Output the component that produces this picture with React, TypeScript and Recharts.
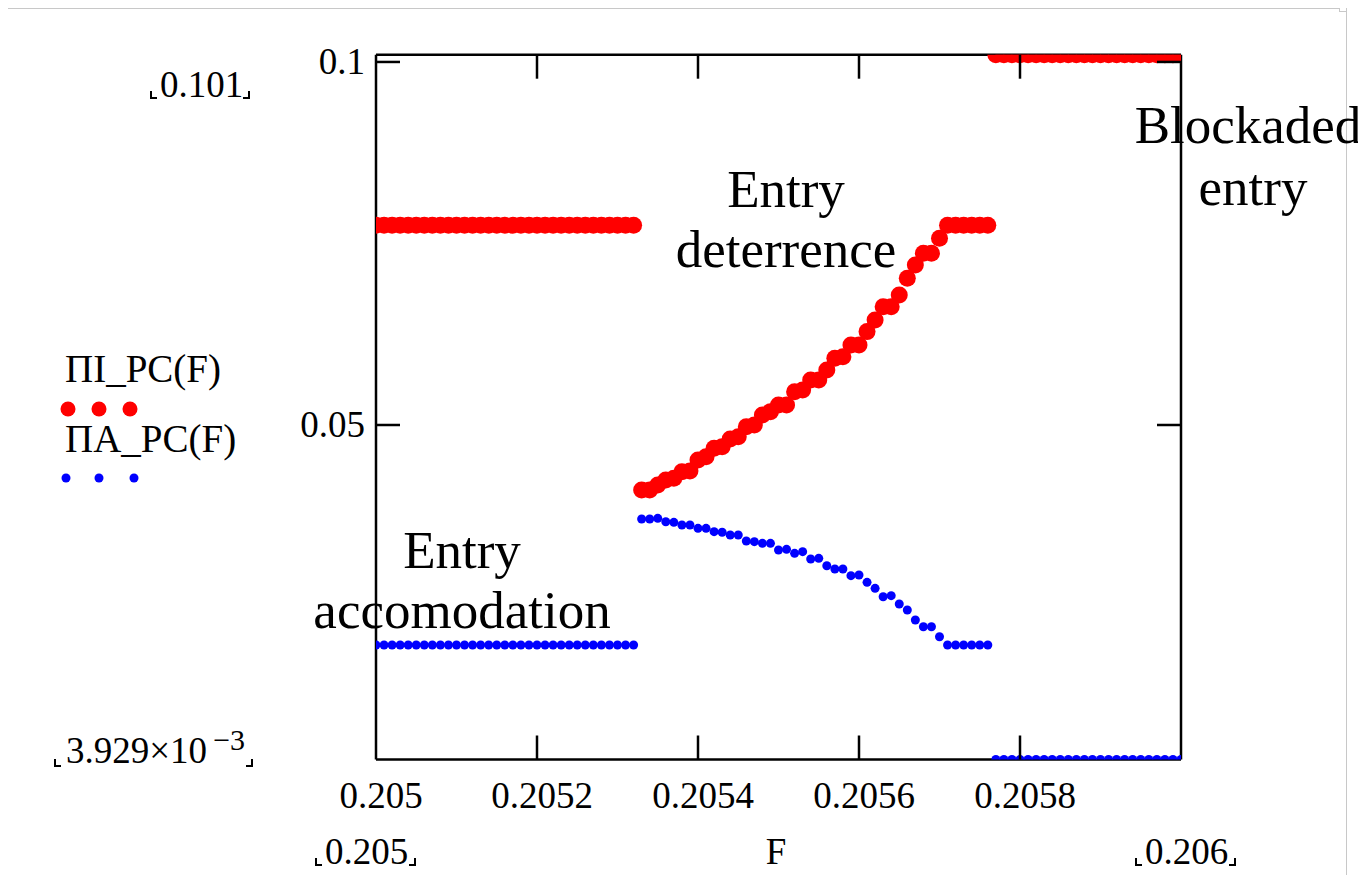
import React from 'react';
import { ScatterChart, Scatter, XAxis, YAxis } from 'recharts';

// ---------- data ----------
const F = [
  0.205, 0.20501, 0.20502, 0.20503, 0.20504, 0.20505, 0.20506, 0.20507, 0.20508, 0.20509,
  0.2051, 0.20511, 0.20512, 0.20513, 0.20514, 0.20515, 0.20516, 0.20517, 0.20518, 0.20519,
  0.2052, 0.20521, 0.20522, 0.20523, 0.20524, 0.20525, 0.20526, 0.20527, 0.20528, 0.20529,
  0.2053, 0.20531, 0.20532, 0.20533, 0.20534, 0.20535, 0.20536, 0.20537, 0.20538, 0.20539,
  0.2054, 0.20541, 0.20542, 0.20543, 0.20544, 0.20545, 0.20546, 0.20547, 0.20548, 0.20549,
  0.2055, 0.20551, 0.20552, 0.20553, 0.20554, 0.20555, 0.20556, 0.20557, 0.20558, 0.20559,
  0.2056, 0.20561, 0.20562, 0.20563, 0.20564, 0.20565, 0.20566, 0.20567, 0.20568, 0.20569,
  0.2057, 0.20571, 0.20572, 0.20573, 0.20574, 0.20575, 0.20576, 0.20577, 0.20578, 0.20579,
  0.2058, 0.20581, 0.20582, 0.20583, 0.20584, 0.20585, 0.20586, 0.20587, 0.20588, 0.20589,
  0.2059, 0.20591, 0.20592, 0.20593, 0.20594, 0.20595, 0.20596, 0.20597, 0.20598, 0.20599,
  0.206,
];

// ΠI_PC(F)
const PI_I = [
  0.0775, 0.0775, 0.0775, 0.0775, 0.0775, 0.0775, 0.0775, 0.0775, 0.0775, 0.0775,
  0.0775, 0.0775, 0.0775, 0.0775, 0.0775, 0.0775, 0.0775, 0.0775, 0.0775, 0.0775,
  0.0775, 0.0775, 0.0775, 0.0775, 0.0775, 0.0775, 0.0775, 0.0775, 0.0775, 0.0775,
  0.0775, 0.0775, 0.0775,
  0.04105, 0.04105, 0.04174, 0.04242, 0.04265, 0.04357, 0.04366, 0.04518, 0.04564, 0.04679,
  0.04702, 0.04807, 0.04839, 0.04977, 0.05, 0.05138, 0.05184, 0.05275, 0.05275, 0.05459,
  0.05482, 0.0562, 0.0562, 0.05758, 0.05918, 0.05941, 0.06102, 0.06102, 0.06286, 0.06446,
  0.0663, 0.0663, 0.06791, 0.0702, 0.07204, 0.07365, 0.07365, 0.07571, 0.0775, 0.0775,
  0.0775, 0.0775, 0.0775, 0.0775,
  0.101, 0.101, 0.101, 0.101, 0.101, 0.101, 0.101, 0.101, 0.101, 0.101,
  0.101, 0.101, 0.101, 0.101, 0.101, 0.101, 0.101, 0.101, 0.101, 0.101,
  0.101, 0.101, 0.101, 0.101,
];

// ΠA_PC(F)
const PI_A = [
  0.0197, 0.0197, 0.0197, 0.0197, 0.0197, 0.0197, 0.0197, 0.0197, 0.0197, 0.0197,
  0.0197, 0.0197, 0.0197, 0.0197, 0.0197, 0.0197, 0.0197, 0.0197, 0.0197, 0.0197,
  0.0197, 0.0197, 0.0197, 0.0197, 0.0197, 0.0197, 0.0197, 0.0197, 0.0197, 0.0197,
  0.0197, 0.0197, 0.0197,
  0.03705, 0.03705, 0.03714, 0.03668, 0.03659, 0.03623, 0.03623, 0.03577, 0.03577, 0.03531,
  0.03522, 0.03485, 0.03485, 0.03402, 0.03393, 0.0337, 0.0337, 0.03278, 0.03287, 0.03232,
  0.03255, 0.03154, 0.03163, 0.03062, 0.03017, 0.03017, 0.02925, 0.02934, 0.02833, 0.0275,
  0.02635, 0.02649, 0.02534, 0.02452, 0.02314, 0.02222, 0.02222, 0.02084, 0.0197, 0.0197,
  0.0197, 0.0197, 0.0197, 0.0197,
  0.003929, 0.003929, 0.003929, 0.003929, 0.003929, 0.003929, 0.003929, 0.003929, 0.003929, 0.003929,
  0.003929, 0.003929, 0.003929, 0.003929, 0.003929, 0.003929, 0.003929, 0.003929, 0.003929, 0.003929,
  0.003929, 0.003929, 0.003929, 0.003929,
];

const xTicks = [0.205, 0.2052, 0.2054, 0.2056, 0.2058];
const xTickLabels = ['0.205', '0.2052', '0.2054', '0.2056', '0.2058'];
const yTicks = [0.05, 0.1];
const yTickLabels = ['0.05', '0.1'];
const xLimits = [0.205, 0.206];
const xLimitLabels = ['0.205', '0.206'];
const yLimits = [0.003929, 0.101];
const seriesNames = ['ΠI_PC(F)', 'ΠA_PC(F)'];
const axisTitle = 'F';
const regionLabels = [
  ['Entry', 'deterrence'],
  ['Blockaded', 'entry'],
  ['Entry', 'accomodation'],
];

const incumbentData = F.map((f, i) => ({ F: f, v: PI_I[i] }));
const entrantData = F.map((f, i) => ({ F: f, v: PI_A[i] }));

// ---------- styling ----------
const FONT = '"Liberation Serif", "Times New Roman", serif';
const TICK_LEN = 24;
const AXIS_W = 2.5;
const RED = '#ff0000';
const BLUE = '#0000ff';

const BottomTick = (p: any) => {
  const { x, y, index } = p;
  return (
    <g>
      {index > 0 && <line x1={x} x2={x} y1={y} y2={y - TICK_LEN} stroke="#000" strokeWidth={AXIS_W} />}
      <text x={x + 5} y={y + 48} textAnchor="middle" fontFamily={FONT} fontSize={37} fill="#000">
        {xTickLabels[index]}
      </text>
    </g>
  );
};
const TopTick = (p: any) => {
  const { x, y, index } = p;
  if (index === 0) return <g />;
  return <line x1={x} x2={x} y1={y} y2={y + TICK_LEN} stroke="#000" strokeWidth={AXIS_W} />;
};
const LeftTick = (p: any) => {
  const { x, y, index } = p;
  return (
    <g>
      <line x1={x} x2={x + TICK_LEN} y1={y} y2={y} stroke="#000" strokeWidth={AXIS_W} />
      <text x={x - 11} y={y + 12} textAnchor="end" fontFamily={FONT} fontSize={37} fill="#000">
        {yTickLabels[index]}
      </text>
    </g>
  );
};
const RightTick = (p: any) => {
  const { x, y } = p;
  return <line x1={x} x2={x - TICK_LEN} y1={y} y2={y} stroke="#000" strokeWidth={AXIS_W} />;
};

const RedDot = (p: any) => <circle cx={p.cx} cy={p.cy} r={8.5} fill={RED} />;
const BlueDot = (p: any) => <circle cx={p.cx} cy={p.cy} r={4.5} fill={BLUE} />;

const Bracketed = ({ x, y, text, w }: { x: number; y: number; text: string; w: number }) => (
  <g>
    <polyline points={`${x - 9},${y - 6} ${x - 9},${y + 1} ${x - 3},${y + 1}`} fill="none" stroke="#000" strokeWidth={2} />
    <text x={x} y={y} fontFamily={FONT} fontSize={37} fill="#000">{text}</text>
    <polyline points={`${x + w + 1},${y + 1} ${x + w + 7},${y + 1} ${x + w + 7},${y - 6}`} fill="none" stroke="#000" strokeWidth={2} />
  </g>
);

export default function App() {
  const W = 1358;
  const H = 867;
  return (
    <div style={{ position: 'relative', width: W, height: H }}>
      <ScatterChart
        width={W}
        height={H}
        margin={{ top: 45.7, right: 184, left: 367, bottom: 114.5 }}
      >
        <XAxis
          type="number"
          dataKey="F"
          domain={xLimits}
          ticks={xTicks}
          allowDataOverflow
          interval={0}
          height={1}
          tickSize={0}
          tickMargin={0}
          tick={BottomTick}
          axisLine={{ stroke: '#000', strokeWidth: AXIS_W }}
          tickLine={false}
        />
        <XAxis
          xAxisId="top"
          orientation="top"
          type="number"
          dataKey="F"
          domain={xLimits}
          ticks={xTicks}
          allowDataOverflow
          interval={0}
          height={1}
          tickSize={0}
          tickMargin={0}
          tick={TopTick}
          axisLine={{ stroke: '#000', strokeWidth: AXIS_W }}
          tickLine={false}
        />
        <YAxis
          type="number"
          dataKey="v"
          domain={yLimits}
          ticks={yTicks}
          allowDataOverflow
          interval={0}
          width={1}
          tickSize={0}
          tickMargin={0}
          tick={LeftTick}
          axisLine={{ stroke: '#000', strokeWidth: AXIS_W }}
          tickLine={false}
        />
        <YAxis
          yAxisId="right"
          orientation="right"
          type="number"
          dataKey="v"
          domain={yLimits}
          ticks={yTicks}
          allowDataOverflow
          interval={0}
          width={1}
          tickSize={0}
          tickMargin={0}
          tick={RightTick}
          axisLine={{ stroke: '#000', strokeWidth: AXIS_W }}
          tickLine={false}
        />
        <Scatter name={seriesNames[0]} data={incumbentData} dataKey="v" shape={RedDot} isAnimationActive={false} />
        <Scatter name={seriesNames[1]} data={entrantData} dataKey="v" shape={BlueDot} isAnimationActive={false} />
      </ScatterChart>

      <svg
        width={1366}
        height={875}
        viewBox="0 0 1366 875"
        style={{ position: 'absolute', left: -8, top: -8, pointerEvents: 'none' }}
      >
        {/* Mathcad region frame */}
        <line x1={0} x2={1346} y1={8.5} y2={8.5} stroke="#c8c8c8" strokeWidth={1} />
        <line x1={1346.5} x2={1346.5} y1={0} y2={875} stroke="#c8c8c8" strokeWidth={1} />
        <rect x={1339.5} y={4.5} width={7} height={7} fill="#fff" stroke="#c8c8c8" strokeWidth={1} />

        {/* y limits */}
        <Bracketed x={160} y={97} text={String(yLimits[1])} w={82} />
        <g>
          <polyline points="55,759 55,766 61,766" fill="none" stroke="#000" strokeWidth={2} />
          <text x={66} y={763} fontFamily={FONT} fontSize={37} fill="#000">
            3.929×10
            <tspan dx={6} dy={-13} fontSize={30}>−3</tspan>
          </text>
          <polyline points="246,766 252,766 252,759" fill="none" stroke="#000" strokeWidth={2} />
        </g>

        {/* x limits and title */}
        <Bracketed x={325} y={864} text={xLimitLabels[0]} w={83} />
        <text x={776} y={864} textAnchor="middle" fontFamily={FONT} fontSize={37} fill="#000">{axisTitle}</text>
        <Bracketed x={1145} y={864} text={xLimitLabels[1]} w={83} />

        {/* legend */}
        <text x={65} y={382} fontFamily={FONT} fontSize={39} fill="#000">{seriesNames[0]}</text>
        <circle cx={68} cy={409} r={7.5} fill={RED} />
        <circle cx={99} cy={409} r={7.5} fill={RED} />
        <circle cx={130} cy={409} r={7.5} fill={RED} />
        <text x={65} y={452} fontFamily={FONT} fontSize={39} fill="#000">{seriesNames[1]}</text>
        <circle cx={66} cy={478} r={4.5} fill={BLUE} />
        <circle cx={99} cy={478} r={4.5} fill={BLUE} />
        <circle cx={134} cy={478} r={4.5} fill={BLUE} />

        {/* region labels */}
        <g fontFamily={FONT} fontSize={53} fill="#000" textAnchor="middle">
          <text x={786} y={207}>{regionLabels[0][0]}</text>
          <text x={786} y={267}>{regionLabels[0][1]}</text>
          <text x={1248} y={143}>{regionLabels[1][0]}</text>
          <text x={1253} y={205}>{regionLabels[1][1]}</text>
          <text x={462} y={568}>{regionLabels[2][0]}</text>
          <text x={462} y={628}>{regionLabels[2][1]}</text>
        </g>
      </svg>
    </div>
  );
}
